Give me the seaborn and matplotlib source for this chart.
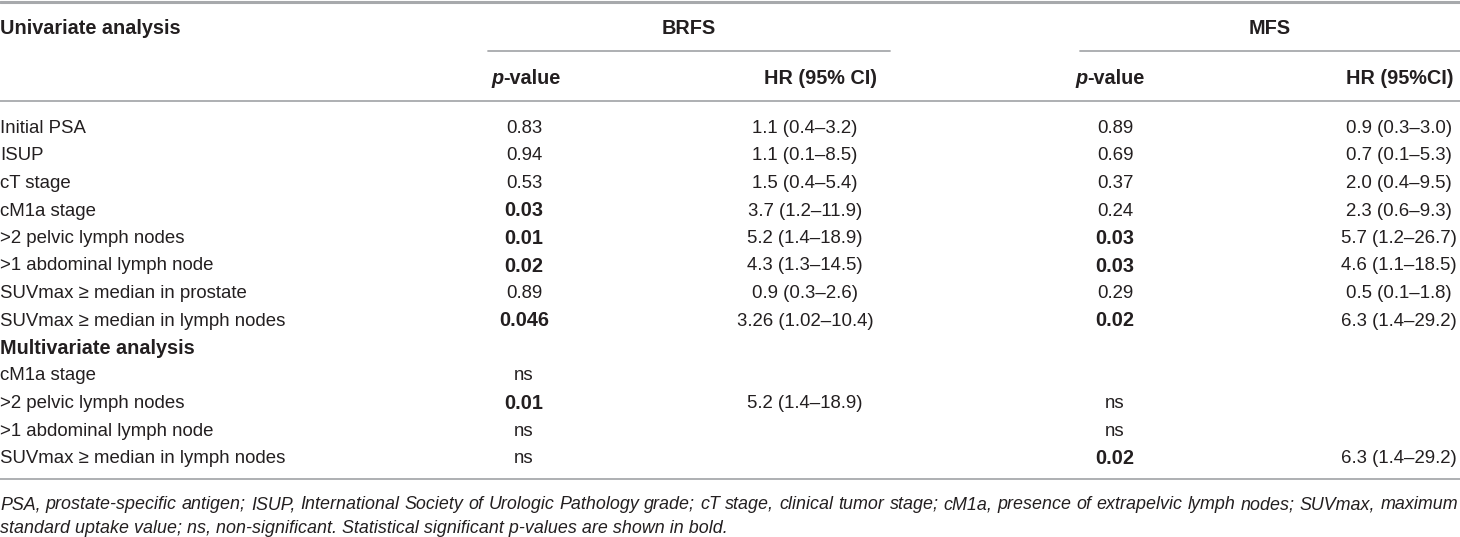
import matplotlib
matplotlib.use("Agg")
import matplotlib.pyplot as plt
import seaborn as sns

# table content
row_labels = [
    "Initial PSA", "ISUP", "cT stage", "cM1a stage", ">2 pelvic lymph nodes",
    ">1 abdominal lymph node", "SUVmax \u2265 median in prostate",
    "SUVmax \u2265 median in lymph nodes", "Multivariate analysis",
    "cM1a stage", ">2 pelvic lymph nodes", ">1 abdominal lymph node",
    "SUVmax \u2265 median in lymph nodes",
]
brfs_p = ["0.83", "0.94", "0.53", "0.03", "0.01", "0.02", "0.89", "0.046",
          "", "ns", "0.01", "ns", "ns"]
brfs_hr = ["1.1 (0.4\u20133.2)", "1.1 (0.1\u20138.5)", "1.5 (0.4\u20135.4)",
           "3.7 (1.2\u201311.9)", "5.2 (1.4\u201318.9)", "4.3 (1.3\u201314.5)",
           "0.9 (0.3\u20132.6)", "3.26 (1.02\u201310.4)",
           "", "", "5.2 (1.4\u201318.9)", "", ""]
mfs_p = ["0.89", "0.69", "0.37", "0.24", "0.03", "0.03", "0.29", "0.02",
         "", "", "ns", "ns", "0.02"]
mfs_hr = ["0.9 (0.3\u20133.0)", "0.7 (0.1\u20135.3)", "2.0 (0.4\u20139.5)",
          "2.3 (0.6\u20139.3)", "5.7 (1.2\u201326.7)", "4.6 (1.1\u201318.5)",
          "0.5 (0.1\u20131.8)", "6.3 (1.4\u201329.2)",
          "", "", "", "", "6.3 (1.4\u201329.2)"]
bold_labels = ["Multivariate analysis"]
# significant p-values (p < 0.05) are bold
sig_cut = 0.05

footnote_1 = ("PSA, prostate-specific antigen; ISUP, International Society of Urologic "
              "Pathology grade; cT stage, clinical tumor stage; cM1a, presence of "
              "extrapelvic lymph nodes; SUVmax, maximum")
footnote_2 = ("standard uptake value; ns, non-significant. Statistical significant "
              "p-values are shown in bold.")

sns.set_theme(style="white")
plt.rcParams["font.family"] = ["Liberation Sans", "DejaVu Sans"]

W, H = 1460, 537
fig = plt.figure(figsize=(W / 100, H / 100), dpi=100)
ax = fig.add_axes([0, 0, 1, 1])
ax.set_xlim(0, W)
ax.set_ylim(H, 0)
ax.axis("off")

txt = "#231f20"
rule = "#a7a9ac"
fs = 13.4      # regular text
fsb = 14.3     # bold text (reference bold face runs wider)
fsn = 12.9     # footnote

def is_sig(v):
    try:
        return float(v) < sig_cut
    except ValueError:
        return False

# rules
ax.plot([0, W], [1.5, 1.5], color=rule, lw=2.2)
ax.plot([488, 890], [51, 51], color=rule, lw=1.3)
ax.plot([1080, W], [51, 51], color=rule, lw=1.3)
ax.plot([0, W], [101, 101], color=rule, lw=1.3)
ax.plot([0, W], [479, 479], color=rule, lw=1.3)

dy = 1.5  # centre offset for text
ax.text(0, 27 + dy, "Univariate analysis", fontsize=fsb, fontweight="bold",
        color=txt, ha="left", va="center")
ax.text(689, 27 + dy, "BRFS", fontsize=fsb, fontweight="bold", color=txt,
        ha="center", va="center")
ax.text(1270, 27 + dy, "MFS", fontsize=fsb, fontweight="bold", color=txt,
        ha="center", va="center")

fig.canvas.draw()
rend = fig.canvas.get_renderer()

def pvalue_header(xc, y):
    a = ax.text(0, y, "p", fontsize=fsb, fontweight="bold", fontstyle="italic",
                color=txt, ha="left", va="center")
    b = ax.text(0, y, "-value", fontsize=fsb, fontweight="bold", color=txt,
                ha="left", va="center")
    wa = a.get_window_extent(rend).width
    wb = b.get_window_extent(rend).width
    x0 = xc - (wa + wb) / 2
    a.set_x(x0)
    b.set_x(x0 + wa)

pvalue_header(526, 77 + dy)
pvalue_header(1110, 77 + dy)
ax.text(877, 77 + dy, "HR (95% CI)", fontsize=fsb, fontweight="bold", color=txt,
        ha="right", va="center")
ax.text(1454, 77 + dy, "HR (95%CI)", fontsize=fsb, fontweight="bold", color=txt,
        ha="right", va="center")

y0, step = 127, 27.5
for i, lab in enumerate(row_labels):
    y = y0 + i * step + dy
    if lab in bold_labels:
        ax.text(0, y, lab, fontsize=fsb, color=txt, ha="left", va="center",
                fontweight="bold")
    else:
        ax.text(0, y, lab, fontsize=fs, color=txt, ha="left", va="center")
    for col, xc in ((brfs_p, 524), (mfs_p, 1115)):
        v = col[i]
        if v:
            sig = is_sig(v)
            ax.text(xc, y, v, fontsize=fsb if sig else fs, color=txt,
                    ha="center", va="center",
                    fontweight="bold" if sig else "normal")
    for col, xc in ((brfs_hr, 805), (mfs_hr, 1399)):
        v = col[i]
        if v:
            ax.text(xc, y, v, fontsize=fs, color=txt, ha="center", va="center")

# footnote, first line justified to full width
fn = dict(fontsize=fsn, fontstyle="italic", color=txt, va="center", ha="left")
words = footnote_1.split(" ")
arts = [ax.text(0, 503 + dy, w, **fn) for w in words]
fig.canvas.draw()
widths = [a.get_window_extent(rend).width for a in arts]
gap = max((W - 2 - sum(widths)) / (len(words) - 1), 2.0)
x = 0
for a, w in zip(arts, widths):
    a.set_x(x)
    x += w + gap
ax.text(0, 527 + dy, footnote_2, **fn)

fig.savefig("out.png", dpi=100, facecolor="white")
